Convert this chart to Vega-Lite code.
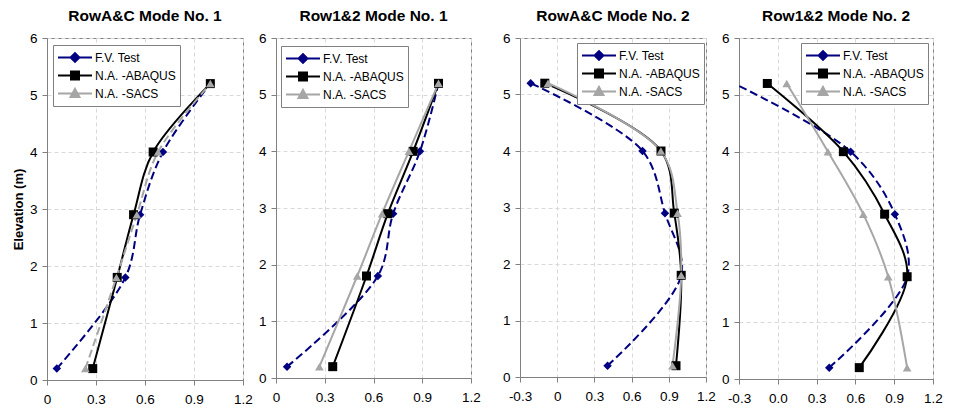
{
  "$schema": "https://vega.github.io/schema/vega-lite/v6.json",
  "padding": {"left": 11, "top": 8, "right": 10, "bottom": 5},
  "background": "white",
  "data": {"values": [
    {"p":1,"s":"F.V. Test","x":0.06,"y":0.2},{"p":1,"s":"F.V. Test","x":0.48,"y":1.8},{"p":1,"s":"F.V. Test","x":0.57,"y":2.9},{"p":1,"s":"F.V. Test","x":0.71,"y":4.0},{"p":1,"s":"F.V. Test","x":1.0,"y":5.2},
    {"p":1,"s":"N.A. -ABAQUS","x":0.28,"y":0.2},{"p":1,"s":"N.A. -ABAQUS","x":0.43,"y":1.8},{"p":1,"s":"N.A. -ABAQUS","x":0.53,"y":2.9},{"p":1,"s":"N.A. -ABAQUS","x":0.65,"y":4.0},{"p":1,"s":"N.A. -ABAQUS","x":1.0,"y":5.2},
    {"p":1,"s":"N.A. -SACS","x":0.235,"y":0.2},{"p":1,"s":"N.A. -SACS","x":0.425,"y":1.8},{"p":1,"s":"N.A. -SACS","x":0.55,"y":2.9},{"p":1,"s":"N.A. -SACS","x":0.68,"y":4.0},{"p":1,"s":"N.A. -SACS","x":1.0,"y":5.2},
    {"p":2,"s":"F.V. Test","x":0.068,"y":0.2},{"p":2,"s":"F.V. Test","x":0.627,"y":1.8},{"p":2,"s":"F.V. Test","x":0.721,"y":2.9},{"p":2,"s":"F.V. Test","x":0.886,"y":4.0},{"p":2,"s":"F.V. Test","x":1.0,"y":5.2},
    {"p":2,"s":"N.A. -ABAQUS","x":0.349,"y":0.2},{"p":2,"s":"N.A. -ABAQUS","x":0.557,"y":1.8},{"p":2,"s":"N.A. -ABAQUS","x":0.688,"y":2.9},{"p":2,"s":"N.A. -ABAQUS","x":0.844,"y":4.0},{"p":2,"s":"N.A. -ABAQUS","x":1.0,"y":5.2},
    {"p":2,"s":"N.A. -SACS","x":0.267,"y":0.2},{"p":2,"s":"N.A. -SACS","x":0.5,"y":1.8},{"p":2,"s":"N.A. -SACS","x":0.653,"y":2.9},{"p":2,"s":"N.A. -SACS","x":0.818,"y":4.0},{"p":2,"s":"N.A. -SACS","x":1.0,"y":5.2},
    {"p":3,"s":"F.V. Test","x":0.406,"y":0.2},{"p":3,"s":"F.V. Test","x":1.0,"y":1.8},{"p":3,"s":"F.V. Test","x":0.869,"y":2.9},{"p":3,"s":"F.V. Test","x":0.688,"y":4.0},{"p":3,"s":"F.V. Test","x":-0.214,"y":5.2},
    {"p":3,"s":"N.A. -ABAQUS","x":0.958,"y":0.2},{"p":3,"s":"N.A. -ABAQUS","x":1.0,"y":1.8},{"p":3,"s":"N.A. -ABAQUS","x":0.944,"y":2.9},{"p":3,"s":"N.A. -ABAQUS","x":0.837,"y":4.0},{"p":3,"s":"N.A. -ABAQUS","x":-0.1,"y":5.2},
    {"p":3,"s":"N.A. -SACS","x":0.93,"y":0.2},{"p":3,"s":"N.A. -SACS","x":1.0,"y":1.8},{"p":3,"s":"N.A. -SACS","x":0.971,"y":2.9},{"p":3,"s":"N.A. -SACS","x":0.836,"y":4.0},{"p":3,"s":"N.A. -SACS","x":-0.074,"y":5.2},
    {"p":4,"s":"F.V. Test","x":0.398,"y":0.2},{"p":4,"s":"F.V. Test","x":1.0,"y":1.8},{"p":4,"s":"F.V. Test","x":0.905,"y":2.9},{"p":4,"s":"F.V. Test","x":0.563,"y":4.0},{"p":4,"s":"F.V. Test","x":-0.34,"y":5.2},
    {"p":4,"s":"N.A. -ABAQUS","x":0.63,"y":0.2},{"p":4,"s":"N.A. -ABAQUS","x":1.0,"y":1.8},{"p":4,"s":"N.A. -ABAQUS","x":0.826,"y":2.9},{"p":4,"s":"N.A. -ABAQUS","x":0.507,"y":4.0},{"p":4,"s":"N.A. -ABAQUS","x":-0.081,"y":5.2},
    {"p":4,"s":"N.A. -SACS","x":1.0,"y":0.2},{"p":4,"s":"N.A. -SACS","x":0.854,"y":1.8},{"p":4,"s":"N.A. -SACS","x":0.661,"y":2.9},{"p":4,"s":"N.A. -SACS","x":0.388,"y":4.0},{"p":4,"s":"N.A. -SACS","x":0.069,"y":5.2}
  ]},
  "spacing": 20,
  "resolve": {"scale": {"shape": "independent"}, "legend": {"shape": "independent"}},
  "hconcat": [
    {
      "spacing": 33,
      "bounds": "flush",
      "resolve": {"scale": {"shape": "independent"}, "legend": {"shape": "independent"}},
      "hconcat": [
        {
          "width": 196, "height": 342,
          "title": "RowA&C Mode No. 1",
          "transform": [{"filter": "datum.p == 1"}],
          "encoding": {
            "x": {"field": "x", "type": "quantitative", "scale": {"domain": [0, 1.2], "nice": false, "zero": false}, "axis": {"values": [0, 0.3, 0.6, 0.9, 1.2], "labelExpr": "'' + datum.value", "title": null}},
            "y": {"field": "y", "type": "quantitative", "scale": {"domain": [0, 6], "nice": false}, "axis": {"values": [0, 1, 2, 3, 4, 5, 6], "title": "Elevation (m)", "titlePadding": 4}}
          },
          "layer": [
            {"mark": {"type": "point", "filled": true, "opacity": 0, "size": 1, "strokeWidth": 2,
                      "fill": {"expr": "datum.value === 'F.V. Test' ? '#000080' : datum.value === 'N.A. -ABAQUS' ? '#000000' : '#a6a6a6'"},
                      "stroke": {"expr": "datum.value === 'F.V. Test' ? '#000080' : datum.value === 'N.A. -ABAQUS' ? '#000000' : '#a6a6a6'"}},
             "encoding": {"shape": {"field": "s", "type": "nominal",
               "scale": {"domain": ["F.V. Test", "N.A. -ABAQUS", "N.A. -SACS"], "range": ["M-1,0H1M-0.26,0L0,-0.26L0.26,0L0,0.26Z", "M-1,0H1M-0.235,-0.235H0.235V0.235H-0.235Z", "M-1,0H1M0,-0.27L0.26,0.2H-0.26Z"]},
               "legend": {"title": null, "orient": "none", "legendX": 6, "legendY": 7}}}},
            {"transform": [{"filter": "datum.s == 'F.V. Test'"}], "mark": {"type": "line", "interpolate": "catmull-rom", "strokeWidth": 2, "clip": true, "color": "#000080", "strokeDash": [8, 4]}, "encoding": {"order": {"field": "y", "type": "quantitative"}}},
            {"transform": [{"filter": "datum.s == 'N.A. -ABAQUS'"}], "mark": {"type": "line", "interpolate": "catmull-rom", "strokeWidth": 2, "clip": true, "color": "#000000"}, "encoding": {"order": {"field": "y", "type": "quantitative"}}},
            {"transform": [{"filter": "datum.s == 'N.A. -SACS'"}], "mark": {"type": "line", "interpolate": "catmull-rom", "strokeWidth": 2, "clip": true, "color": "#a6a6a6", "strokeDash": [8, 4]}, "encoding": {"order": {"field": "y", "type": "quantitative"}}},
            {"transform": [{"filter": "datum.s == 'F.V. Test'"}], "mark": {"type": "point", "shape": "diamond", "filled": true, "size": 72, "color": "#000080", "opacity": 1, "clip": true}},
            {"transform": [{"filter": "datum.s == 'N.A. -ABAQUS'"}], "mark": {"type": "point", "shape": "square", "filled": true, "size": 81, "color": "#000000", "opacity": 1, "clip": true}},
            {"transform": [{"filter": "datum.s == 'N.A. -SACS'"}], "mark": {"type": "point", "shape": "triangle-up", "filled": true, "size": 75, "color": "#a6a6a6", "opacity": 1, "clip": true}}
          ]
        },
        {
          "width": 195, "height": 340,
          "title": "Row1&2 Mode No. 1",
          "transform": [{"filter": "datum.p == 2"}],
          "encoding": {
            "x": {"field": "x", "type": "quantitative", "scale": {"domain": [0, 1.2], "nice": false, "zero": false}, "axis": {"values": [0, 0.3, 0.6, 0.9, 1.2], "labelExpr": "'' + datum.value", "title": null}},
            "y": {"field": "y", "type": "quantitative", "scale": {"domain": [0, 6], "nice": false}, "axis": {"values": [0, 1, 2, 3, 4, 5, 6], "title": null}}
          },
          "layer": [
            {"mark": {"type": "point", "filled": true, "opacity": 0, "size": 1, "strokeWidth": 2,
                      "fill": {"expr": "datum.value === 'F.V. Test' ? '#000080' : datum.value === 'N.A. -ABAQUS' ? '#000000' : '#a6a6a6'"},
                      "stroke": {"expr": "datum.value === 'F.V. Test' ? '#000080' : datum.value === 'N.A. -ABAQUS' ? '#000000' : '#a6a6a6'"}},
             "encoding": {"shape": {"field": "s", "type": "nominal",
               "scale": {"domain": ["F.V. Test", "N.A. -ABAQUS", "N.A. -SACS"], "range": ["M-1,0H1M-0.26,0L0,-0.26L0.26,0L0,0.26Z", "M-1,0H1M-0.235,-0.235H0.235V0.235H-0.235Z", "M-1,0H1M0,-0.27L0.26,0.2H-0.26Z"]},
               "legend": {"title": null, "orient": "none", "legendX": 5, "legendY": 8}}}},
            {"transform": [{"filter": "datum.s == 'F.V. Test'"}], "mark": {"type": "line", "interpolate": "catmull-rom", "strokeWidth": 2, "clip": true, "color": "#000080", "strokeDash": [8, 4]}, "encoding": {"order": {"field": "y", "type": "quantitative"}}},
            {"transform": [{"filter": "datum.s == 'N.A. -ABAQUS'"}], "mark": {"type": "line", "interpolate": "catmull-rom", "strokeWidth": 2, "clip": true, "color": "#000000"}, "encoding": {"order": {"field": "y", "type": "quantitative"}}},
            {"transform": [{"filter": "datum.s == 'N.A. -SACS'"}], "mark": {"type": "line", "interpolate": "catmull-rom", "strokeWidth": 2, "clip": true, "color": "#a6a6a6"}, "encoding": {"order": {"field": "y", "type": "quantitative"}}},
            {"transform": [{"filter": "datum.s == 'F.V. Test'"}], "mark": {"type": "point", "shape": "diamond", "filled": true, "size": 72, "color": "#000080", "opacity": 1, "clip": true}},
            {"transform": [{"filter": "datum.s == 'N.A. -ABAQUS'"}], "mark": {"type": "point", "shape": "square", "filled": true, "size": 81, "color": "#000000", "opacity": 1, "clip": true}},
            {"transform": [{"filter": "datum.s == 'N.A. -SACS'"}], "mark": {"type": "point", "shape": "triangle-up", "filled": true, "size": 75, "color": "#a6a6a6", "opacity": 1, "clip": true}}
          ]
        }
      ]
    },
    {
      "spacing": 33,
      "bounds": "flush",
      "resolve": {"scale": {"shape": "independent"}, "legend": {"shape": "independent"}},
      "hconcat": [
        {
          "width": 186, "height": 339,
          "title": "RowA&C Mode No. 2",
          "transform": [{"filter": "datum.p == 3"}],
          "encoding": {
            "x": {"field": "x", "type": "quantitative", "scale": {"domain": [-0.3, 1.2], "nice": false, "zero": false}, "axis": {"values": [-0.3, 0, 0.3, 0.6, 0.9, 1.2], "labelExpr": "'' + datum.value", "title": null}},
            "y": {"field": "y", "type": "quantitative", "scale": {"domain": [0, 6], "nice": false}, "axis": {"values": [0, 1, 2, 3, 4, 5, 6], "title": null}}
          },
          "layer": [
            {"mark": {"type": "point", "filled": true, "opacity": 0, "size": 1, "strokeWidth": 2,
                      "fill": {"expr": "datum.value === 'F.V. Test' ? '#000080' : datum.value === 'N.A. -ABAQUS' ? '#000000' : '#a6a6a6'"},
                      "stroke": {"expr": "datum.value === 'F.V. Test' ? '#000080' : datum.value === 'N.A. -ABAQUS' ? '#000000' : '#a6a6a6'"}},
             "encoding": {"shape": {"field": "s", "type": "nominal",
               "scale": {"domain": ["F.V. Test", "N.A. -ABAQUS", "N.A. -SACS"], "range": ["M-1,0H1M-0.26,0L0,-0.26L0.26,0L0,0.26Z", "M-1,0H1M-0.235,-0.235H0.235V0.235H-0.235Z", "M-1,0H1M0,-0.27L0.26,0.2H-0.26Z"]},
               "legend": {"title": null, "orient": "none", "legendX": 57, "legendY": 5}}}},
            {"transform": [{"filter": "datum.s == 'F.V. Test'"}], "mark": {"type": "line", "interpolate": "catmull-rom", "strokeWidth": 2, "clip": true, "color": "#000080", "strokeDash": [8, 4]}, "encoding": {"order": {"field": "y", "type": "quantitative"}}},
            {"transform": [{"filter": "datum.s == 'N.A. -ABAQUS'"}], "mark": {"type": "line", "interpolate": "catmull-rom", "strokeWidth": 2, "clip": true, "color": "#000000"}, "encoding": {"order": {"field": "y", "type": "quantitative"}}},
            {"transform": [{"filter": "datum.s == 'N.A. -SACS'"}], "mark": {"type": "line", "interpolate": "catmull-rom", "strokeWidth": 2, "clip": true, "color": "#a6a6a6"}, "encoding": {"order": {"field": "y", "type": "quantitative"}}},
            {"transform": [{"filter": "datum.s == 'F.V. Test'"}], "mark": {"type": "point", "shape": "diamond", "filled": true, "size": 72, "color": "#000080", "opacity": 1, "clip": true}},
            {"transform": [{"filter": "datum.s == 'N.A. -ABAQUS'"}], "mark": {"type": "point", "shape": "square", "filled": true, "size": 81, "color": "#000000", "opacity": 1, "clip": true}},
            {"transform": [{"filter": "datum.s == 'N.A. -SACS'"}], "mark": {"type": "point", "shape": "triangle-up", "filled": true, "size": 75, "color": "#a6a6a6", "opacity": 1, "clip": true}}
          ]
        },
        {
          "width": 194, "height": 341,
          "title": "Row1&2 Mode No. 2",
          "transform": [{"filter": "datum.p == 4"}],
          "encoding": {
            "x": {"field": "x", "type": "quantitative", "scale": {"domain": [-0.3, 1.2], "nice": false, "zero": false}, "axis": {"values": [-0.3, 0, 0.3, 0.6, 0.9, 1.2], "labelExpr": "datum.value == 0 ? '0.0' : '' + datum.value", "title": null}},
            "y": {"field": "y", "type": "quantitative", "scale": {"domain": [0, 6], "nice": false}, "axis": {"values": [0, 1, 2, 3, 4, 5, 6], "title": null}}
          },
          "layer": [
            {"mark": {"type": "point", "filled": true, "opacity": 0, "size": 1, "strokeWidth": 2,
                      "fill": {"expr": "datum.value === 'F.V. Test' ? '#000080' : datum.value === 'N.A. -ABAQUS' ? '#000000' : '#a6a6a6'"},
                      "stroke": {"expr": "datum.value === 'F.V. Test' ? '#000080' : datum.value === 'N.A. -ABAQUS' ? '#000000' : '#a6a6a6'"}},
             "encoding": {"shape": {"field": "s", "type": "nominal",
               "scale": {"domain": ["F.V. Test", "N.A. -ABAQUS", "N.A. -SACS"], "range": ["M-1,0H1M-0.26,0L0,-0.26L0.26,0L0,0.26Z", "M-1,0H1M-0.235,-0.235H0.235V0.235H-0.235Z", "M-1,0H1M0,-0.27L0.26,0.2H-0.26Z"]},
               "legend": {"title": null, "orient": "none", "legendX": 62, "legendY": 5}}}},
            {"transform": [{"filter": "datum.s == 'F.V. Test'"}], "mark": {"type": "line", "interpolate": "catmull-rom", "strokeWidth": 2, "clip": true, "color": "#000080", "strokeDash": [8, 4]}, "encoding": {"order": {"field": "y", "type": "quantitative"}}},
            {"transform": [{"filter": "datum.s == 'N.A. -ABAQUS'"}], "mark": {"type": "line", "interpolate": "catmull-rom", "strokeWidth": 2, "clip": true, "color": "#000000"}, "encoding": {"order": {"field": "y", "type": "quantitative"}}},
            {"transform": [{"filter": "datum.s == 'N.A. -SACS'"}], "mark": {"type": "line", "interpolate": "catmull-rom", "strokeWidth": 2, "clip": true, "color": "#a6a6a6"}, "encoding": {"order": {"field": "y", "type": "quantitative"}}},
            {"transform": [{"filter": "datum.s == 'F.V. Test'"}], "mark": {"type": "point", "shape": "diamond", "filled": true, "size": 72, "color": "#000080", "opacity": 1, "clip": true}},
            {"transform": [{"filter": "datum.s == 'N.A. -ABAQUS'"}], "mark": {"type": "point", "shape": "square", "filled": true, "size": 81, "color": "#000000", "opacity": 1, "clip": true}},
            {"transform": [{"filter": "datum.s == 'N.A. -SACS'"}], "mark": {"type": "point", "shape": "triangle-up", "filled": true, "size": 75, "color": "#a6a6a6", "opacity": 1, "clip": true}}
          ]
        }
      ]
    }
  ],
  "config": {
    "font": "Liberation Sans",
    "view": {"stroke": "#808080", "strokeWidth": 1},
    "axis": {"labelFont": "Liberation Sans", "labelFontSize": 13.5, "labelColor": "#000000", "labelFlush": false, "labelOverlap": false,
             "domainColor": "#808080", "tickColor": "#808080", "tickSize": 5, "grid": true, "gridColor": "#d9d9d9", "gridDash": [4, 3],
             "titleFont": "Liberation Sans", "titleFontSize": 13, "titleFontWeight": "bold", "titleColor": "#000000"},
    "axisX": {"labelPadding": 7},
    "axisY": {"labelPadding": 5},
    "title": {"font": "Liberation Sans", "fontSize": 15.5, "fontWeight": "bold", "color": "#000000", "offset": 7, "anchor": "middle"},
    "legend": {"symbolSize": 1156, "clipHeight": 17, "rowPadding": 1, "padding": 4, "strokeColor": "#808080", "fillColor": "#ffffff",
               "labelFont": "Liberation Sans", "labelFontSize": 12, "labelColor": "#000000", "labelOffset": 2, "symbolStrokeWidth": 2, "cornerRadius": 0}
  }
}
